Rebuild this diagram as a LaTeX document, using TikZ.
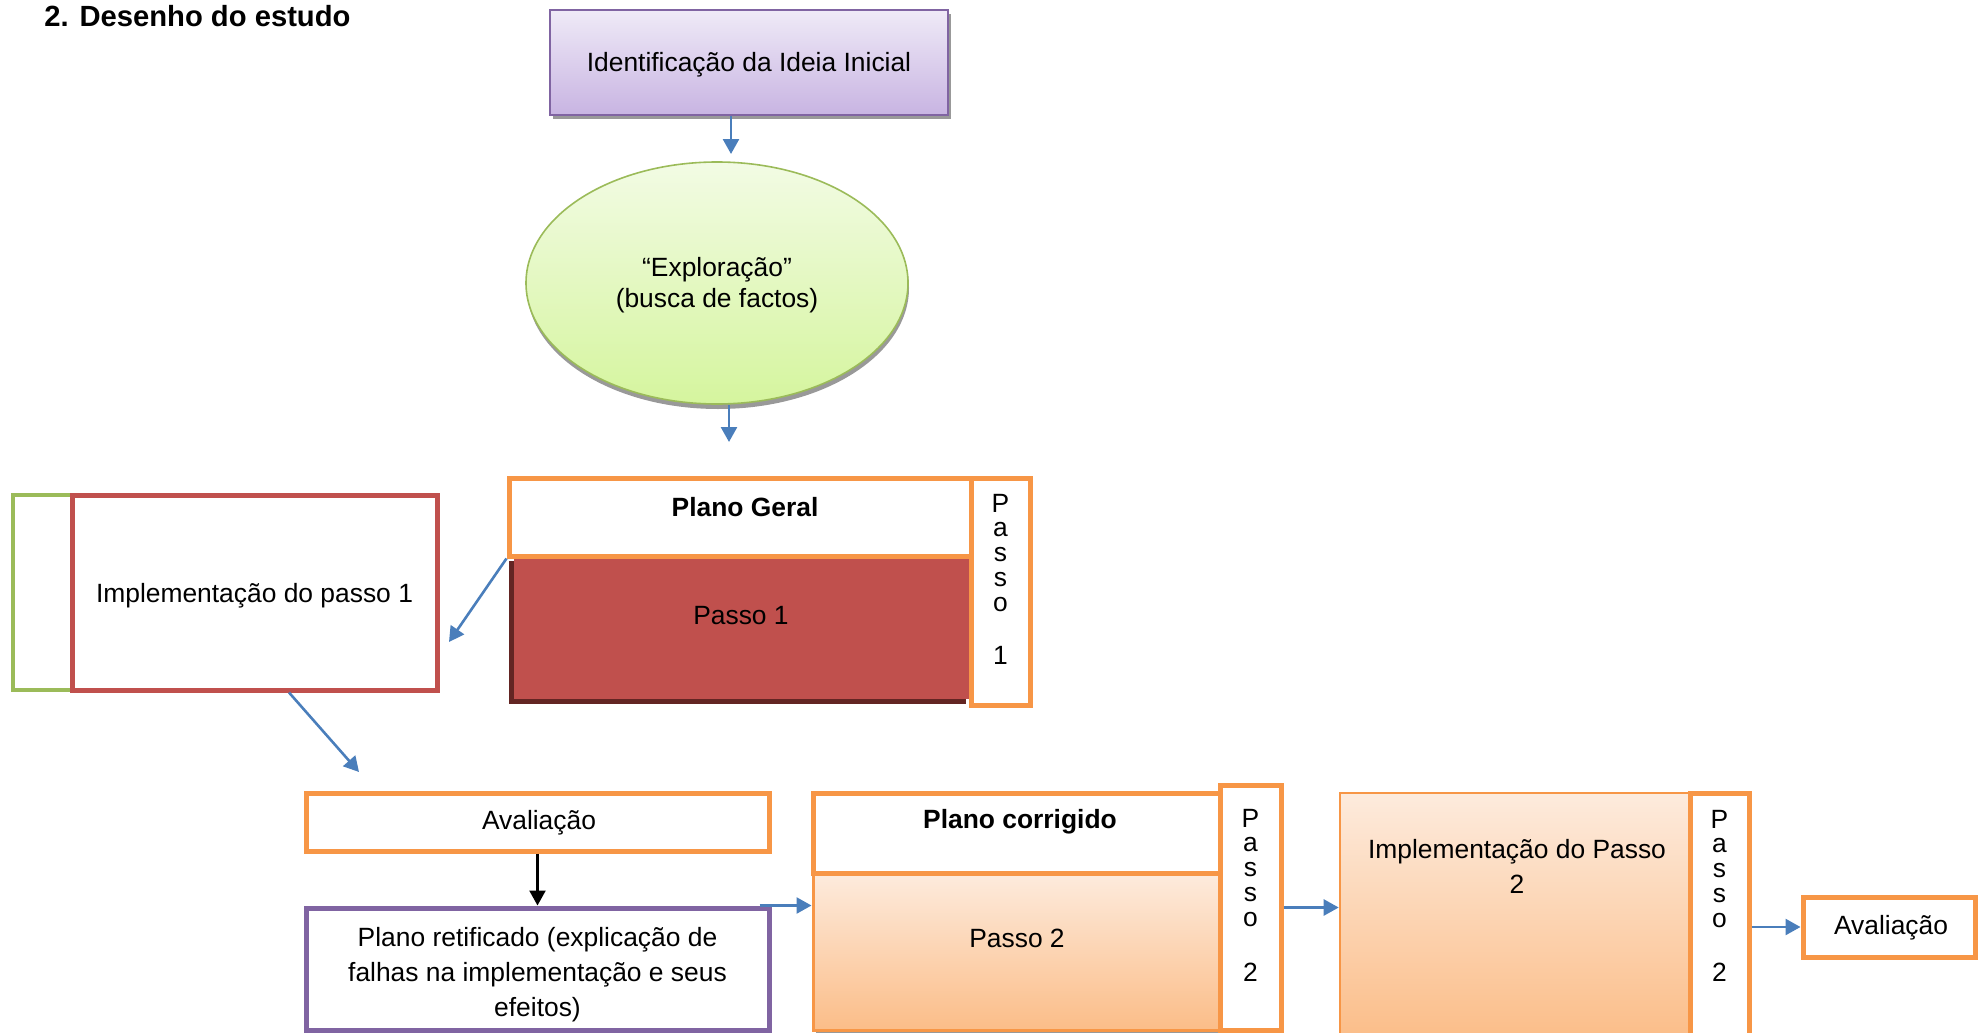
\documentclass[tikz,border=0pt]{standalone}
\usepackage{fontspec}
\setmainfont{Liberation Sans}
\usetikzlibrary{shapes.geometric,shadows,arrows.meta,calc}
\definecolor{oOrange}{HTML}{F79646}
\definecolor{oRed}{HTML}{C0504D}
\definecolor{oDarkRed}{HTML}{632523}
\definecolor{oPurple}{HTML}{8064A2}
\definecolor{oGreen}{HTML}{9BBB59}
\definecolor{aBlue}{HTML}{4A7EBB}
\definecolor{purpTop}{HTML}{EFEAF7}
\definecolor{purpBot}{HTML}{C8B4E2}
\definecolor{greenTop}{HTML}{F2FBE4}
\definecolor{greenBot}{HTML}{D5F59E}
\definecolor{peachTop}{HTML}{FDEBDD}
\definecolor{peachBot}{HTML}{FBBD88}
\begin{document}
\begin{tikzpicture}[x=0.5pt,y=-0.5pt,
  font=\fontsize{13.2}{17.5}\selectfont,
  box/.style={draw, rectangle, inner sep=0pt, align=center},
  obox/.style={box, draw=oOrange, line width=2.5pt, fill=white},
  arr/.style={draw=aBlue, line width=1.3pt, -{Triangle[length=7.5pt,width=8pt]}},
  vtext/.style={align=center, inner sep=0pt, anchor=north, font=\fontsize{13.2}{12.4}\selectfont},
  btext/.style={inner sep=0pt, font=\bfseries\fontsize{13.2}{17.5}\selectfont},
  ptext/.style={inner sep=0pt, align=center},
  gshadow/.style={drop shadow={shadow xshift=1.5pt, shadow yshift=-2pt, fill=black!40, opacity=1}}
]
\useasboundingbox (0,0) rectangle (1982,1033);

% title
\node[anchor=west, inner sep=0pt, font=\bfseries\fontsize{14.6}{17}\selectfont] (title) at (44,16) {2. Desenho do estudo};

% top chain
\node[box, draw=oPurple, line width=1pt, top color=purpTop, bottom color=purpBot,
      minimum width=199pt, minimum height=52.5pt, gshadow] (ideia) at (749,62.5) {};
\node[ptext] (ideiat) at (749,64.5) {Identificação da Ideia Inicial};
\node[ellipse, draw=oGreen, line width=0.8pt, top color=greenTop, bottom color=greenBot,
      minimum width=191pt, minimum height=121pt, inner sep=0pt,
      drop shadow={shadow xshift=0.5pt, shadow yshift=-2.5pt, fill=black!40, opacity=1}] (explor) at (717,283) {};
\node[ptext, font=\fontsize{13.2}{15.2}\selectfont] (explort) at (717,285) {“Exploração”\\(busca de factos)};
\coordinate (a1e) at (731,154);
\draw[arr] (ideia.south -| a1e) -- (a1e);
\coordinate (a2e) at (729,442);
\draw[arr] (explor.south -| a2e) -- (a2e);

% Plano geral block
\node[box, draw=none, fill=oRed, minimum width=228.5pt, minimum height=71.5pt,
      drop shadow={shadow xshift=-2.5pt, shadow yshift=-2.5pt, fill=oDarkRed, opacity=1}] (passo1) at (742.5,627.5) {};
\node[ptext] (passo1t) at (741,616) {Passo 1};
\node[obox, minimum width=231pt, minimum height=39pt] (pgeral) at (740,517) {};
\node[btext] (pgeralt) at (745,507) {Plano Geral};
\node[obox, minimum width=29.5pt, minimum height=113.5pt] (v1) at (1000.5,591.5) {};
\node[vtext] (v1t) at (1000.5,493.5) {P\\a\\s\\s\\o\\[14pt]1};

% implementation 1
\node[box, draw=oGreen, line width=1.6pt, minimum width=29.5pt, minimum height=97.5pt] (green) at (42.5,592.5) {};
\node[box, draw=oRed, line width=2.5pt, fill=white, minimum width=182.5pt, minimum height=97.5pt] (impl1) at (254.5,592.5) {};
\node[ptext] (impl1t) at (254.5,595.5) {Implementação do passo 1};
\coordinate (a3e) at (449,642);
\draw[arr] (pgeral.south west) -- (a3e);
\coordinate (a4e) at (359,772);
\draw[arr] ([xshift=17.25pt]impl1.south) -- (a4e);

% evaluation and rectified plan
\node[obox, minimum width=231.5pt, minimum height=29pt] (aval1) at (537.5,822) {};
\node[ptext] (aval1t) at (539,823) {Avaliação};
\node[box, draw=oPurple, line width=2.5pt, fill=white, minimum width=231.5pt, minimum height=61pt] (retif) at (537.5,969) {};
\node[ptext] (retift) at (537.5,975) {Plano retificado (explicação de\\falhas na implementação e seus\\efeitos)};
\draw[black, line width=1.2pt, -{Triangle[length=7.5pt,width=8pt]}] (aval1.south) -- (retif.north);

% Plano corrigido block
\node[box, draw=oOrange, line width=1.5pt, top color=peachTop, bottom color=peachBot,
      minimum width=203.5pt, minimum height=78.5pt, gshadow] (passo2) at (1016.5,951.5) {};
\node[ptext] (passo2t) at (1017,938) {Passo 2};
\node[obox, minimum width=203.5pt, minimum height=40pt] (pcorr) at (1016.5,833) {};
\node[btext] (pcorrt) at (1020,822) {Plano corrigido};
\draw[arr] ([xshift=-6pt]retif.north east) -- (passo2.west |- retif.north east);
\node[obox, minimum width=30.5pt, minimum height=122.5pt] (v2) at (1250.5,907.5) {};
\node[vtext] (v2t) at (1250.5,808.5) {P\\a\\s\\s\\o\\[15pt]2};

% implementation 2
\node[box, draw=oOrange, line width=1.3pt, top color=peachTop, bottom color=peachBot,
      minimum width=175pt, minimum height=123.5pt] (impl2) at (1515,916.5) {};
\node[ptext] (impl2t) at (1517,866) {Implementação do Passo\\2};
\draw[arr] (v2.east) -- (impl2.west |- v2.east);
\node[obox, minimum width=29.5pt, minimum height=123.5pt] (v3) at (1719.5,916.5) {};
\node[vtext] (v3t) at (1719.5,809.5) {P\\a\\s\\s\\o\\[14.5pt]2};

% final evaluation
\node[obox, minimum width=86pt, minimum height=30pt] (aval2) at (1889,927) {};
\node[ptext] (aval2t) at (1891,928) {Avaliação};
\draw[arr] (v3.east |- aval2.west) -- (aval2.west);
\end{tikzpicture}
\end{document}
